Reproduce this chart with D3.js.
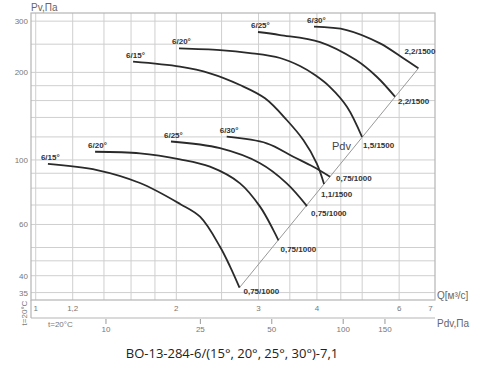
<!DOCTYPE html>
<html>
<head>
<meta charset="utf-8">
<script src="https://cdn.jsdelivr.net/npm/d3@7"></script>
<style>
body { margin: 0; background: #fff; }
svg text { font-family: "Liberation Sans", Arial, sans-serif; }
</style>
</head>
<body>
<script>
var width = 500, height = 372;

// Q [m3/s], Pv [Pa]
var lower15 = [[1.062, 96.9], [1.353, 92.3], [1.672, 83.3], [2.037, 70.6], [2.248, 63.8], [2.481, 50.3], [2.607, 43.0], [2.731, 36.4]];
var lower20 = [[1.340, 106.7], [1.672, 105.4], [2.037, 100.5], [2.361, 94.8], [2.738, 83.1], [3.022, 69.1], [3.227, 57.4], [3.310, 52.9]];
var lower25 = [[1.948, 115.7], [2.481, 109.7], [3.022, 97.4], [3.447, 83.1], [3.809, 69.4]];
var lower30 = [[2.564, 120.2], [3.123, 114.1], [3.561, 102.6], [3.929, 94.8], [4.268, 87.6]];
var upper15 = [[1.616, 217.7], [2.037, 209.2], [2.361, 198.5], [2.738, 181.0], [3.097, 162.9], [3.447, 137.2], [3.741, 117.1], [3.996, 97.4], [4.143, 82.7]];
var upper20 = [[2.027, 242.0], [2.481, 238.7], [2.876, 233.1], [3.335, 224.1], [3.680, 210.3], [3.963, 195.8], [4.268, 178.1], [4.642, 152.1], [4.997, 119.9]];
var upper25 = [[2.992, 275.3], [3.335, 268.8], [4.062, 254.3], [4.851, 220.5], [5.373, 193.2], [5.878, 165.0]];
var upper30 = [[3.943, 287.1], [4.633, 279.7], [5.461, 251.7], [6.125, 223.6], [6.597, 206.5]];
var pdvLine = [[2.731, 36.4], [6.597, 206.5]];

var curves = [lower15, lower20, lower25, lower30, upper15, upper20, upper25, upper30];
var curveNames = ["6/15°", "6/20°", "6/25°", "6/30°", "6/15°", "6/20°", "6/25°", "6/30°"];
var motorNames = ["0,75/1000", "0,75/1000", "0,75/1000", "0,75/1000", "1,1/1500", "1,5/1500", "2,2/1500", "2,2/1500"];

var qGrid = [1, 1.2, 1.4, 1.6, 1.8, 2, 2.5, 3, 3.5, 4, 4.5, 5, 6];
var qLabels = [1, 1.2, 2, 3, 4, 6, 7];
var pGrid = [35, 40, 45, 50, 60, 70, 80, 90, 100, 120, 140, 160, 180, 200, 250, 300];
var pLabels = [300, 200, 100, 60, 40, 35];
var pdvTicks = [10, 25, 50, 100, 150];

// label offsets from curve ends (layout only)
var endOffsets = [[4, 6.5], [2, 12], [4, 10], [6, 4], [-3, 13], [1, 11], [3, 7], [-14, -14]];

var svg = d3.select("body").append("svg")
    .attr("width", width)
    .attr("height", height);

var x = d3.scaleLog().domain([0.977, 7.16]).range([31, 435]);
var y = d3.scaleLog().domain([33, 320]).range([300, 13]);
var xPdv = d3.scaleLog().domain([4.83, 243.8]).range([31, 435]);

var fmt = function (d) { return String(d).replace(".", ","); };

//grid
svg.append("g").selectAll("line").data(qGrid).enter().append("line")
    .attr("x1", d => x(d)).attr("x2", d => x(d))
    .attr("y1", 13).attr("y2", 300)
    .attr("stroke", "#cfcfcf").attr("stroke-width", 1);

svg.append("g").selectAll("line").data(pGrid).enter().append("line")
    .attr("x1", 31).attr("x2", 435)
    .attr("y1", d => y(d)).attr("y2", d => y(d))
    .attr("stroke", "#cfcfcf").attr("stroke-width", 1);

//frame
svg.append("rect")
    .attr("x", 31).attr("y", 13).attr("width", 404).attr("height", 287)
    .attr("fill", "none").attr("stroke", "#b5b5b5").attr("stroke-width", 1.2);

//y labels
svg.append("g").selectAll("text").data(pLabels).enter().append("text")
    .attr("x", 28).attr("y", d => y(d) + 3)
    .attr("text-anchor", "end")
    .attr("font-size", 8).attr("fill", "#777")
    .text(d => d);

//q labels
svg.append("g").selectAll("text").data(qLabels).enter().append("text")
    .attr("x", d => x(d)).attr("y", 311)
    .attr("text-anchor", "middle")
    .attr("font-size", 8).attr("fill", "#777")
    .text(fmt);

//Pdv axis
svg.append("line").attr("x1", 31).attr("x2", 435).attr("y1", 318).attr("y2", 318)
    .attr("stroke", "#b5b5b5").attr("stroke-width", 1.2);
svg.append("line").attr("x1", 31).attr("x2", 31).attr("y1", 300).attr("y2", 318)
    .attr("stroke", "#b5b5b5").attr("stroke-width", 1.2);

svg.append("g").selectAll("line").data(pdvTicks).enter().append("line")
    .attr("x1", d => xPdv(d)).attr("x2", d => xPdv(d))
    .attr("y1", 319).attr("y2", 324)
    .attr("stroke", "#999");

svg.append("g").selectAll("text").data(pdvTicks).enter().append("text")
    .attr("x", d => xPdv(d)).attr("y", 332)
    .attr("text-anchor", "middle")
    .attr("font-size", 8).attr("fill", "#777")
    .text(d => d);

//axis titles
svg.append("text").attr("x", 31).attr("y", 11).attr("font-size", 10).attr("fill", "#666").text("Pv,Па");
svg.append("text").attr("x", 437).attr("y", 299).attr("font-size", 10).attr("fill", "#666").text("Q[м³/с]");
svg.append("text").attr("x", 437).attr("y", 327).attr("font-size", 10).attr("fill", "#666").text("Pdv,Па");
svg.append("text").attr("x", 48).attr("y", 327).attr("font-size", 8).attr("fill", "#777").text("t=20°C");
svg.append("text").attr("transform", "translate(27,313) rotate(-90)")
    .attr("text-anchor", "middle").attr("font-size", 8).attr("fill", "#777").text("t=20°C");

//Pdv line
var line = d3.line().x(d => x(d[0])).y(d => y(d[1]));
svg.append("path").attr("d", line(pdvLine))
    .attr("fill", "none").attr("stroke", "#999").attr("stroke-width", 1);
svg.append("text").attr("x", 332).attr("y", 150).attr("font-size", 11).attr("fill", "#444").text("Pdv");

//curves
var smooth = d3.line().curve(d3.curveCatmullRom.alpha(0.5)).x(d => x(d[0])).y(d => y(d[1]));

for (let i = 0; i < curves.length; i++) {
    var c = curves[i];
    svg.append("path").attr("d", smooth(c))
        .attr("fill", "none").attr("stroke", "#2a2a2a").attr("stroke-width", 1.8);

    svg.append("text")
        .attr("x", x(c[0][0]) - 7).attr("y", y(c[0][1]) - 4)
        .attr("font-size", 8).attr("font-weight", "bold").attr("fill", "#333")
        .text(curveNames[i]);

    var e = c[c.length - 1];
    svg.append("text")
        .attr("x", x(e[0]) + endOffsets[i][0]).attr("y", y(e[1]) + endOffsets[i][1])
        .attr("font-size", 8).attr("font-weight", "bold").attr("fill", "#333")
        .text(motorNames[i]);
}

//title
svg.append("text").attr("x", 232).attr("y", 358)
    .attr("text-anchor", "middle")
    .style("font-family", "'Open Sans', sans-serif")
    .attr("font-size", 13).attr("fill", "#222")
    .text("ВО-13-284-6/(15°, 20°, 25°, 30°)-7,1");
</script>
</body>
</html>
